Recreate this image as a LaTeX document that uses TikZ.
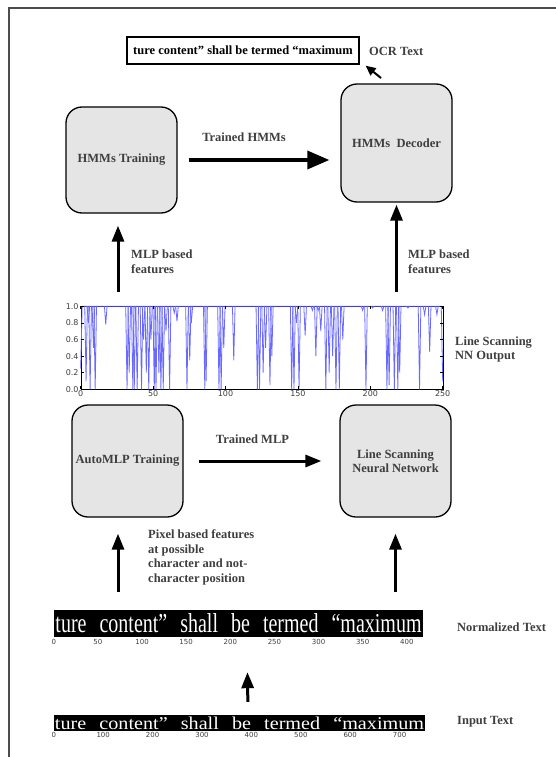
\documentclass[tikz,border=0pt]{standalone}
\usepackage{fontspec}
\setmainfont{Liberation Serif}
\newfontfamily\tickfont{DejaVu Sans}
\usepackage{graphicx}
\usetikzlibrary{arrows.meta,positioning}

\definecolor{boxgray}{RGB}{229,229,229}
\definecolor{labelgray}{RGB}{62,62,62}
\definecolor{nnblue}{RGB}{105,105,255}

\newcommand{\scantext}{ture\hspace{0.65em}content''\hspace{0.65em}shall\hspace{0.65em}be\hspace{0.65em}termed\hspace{0.65em}``maximum}

\begin{document}
\begin{tikzpicture}[x=1pt, y=-1pt,
  proc box/.style={draw, line width=1.3pt, rounded corners=16pt, fill=boxgray, minimum width=111pt, align=center, font=\fontsize{12.5}{14.5}\selectfont\bfseries, text=labelgray},
  big arrow/.style={line width=3pt, -{Triangle[length=16pt,width=12pt]}},
  lbl/.style={font=\fontsize{12.5}{14.5}\selectfont\bfseries, text=labelgray, align=left, inner sep=0pt},
  tick lbl/.style={font=\tickfont\fontsize{7}{8}\selectfont, text=labelgray, inner sep=1pt},
  scan strip/.style={fill=black, inner sep=0pt, text=white},
  nn line/.style={nnblue, line width=0.8pt}]
\useasboundingbox (0,0) rectangle (556,757);
\draw[gray!60!black, line width=1.2pt] (556,8) -- (9,8) -- (9,757);

% top row
\node[draw, line width=1.3pt, minimum width=232pt, minimum height=27pt, inner sep=0pt, font=\fontsize{12.5}{14}\selectfont\bfseries] (ocrbox) at (243,50.5) {ture content'' shall be termed ``maximum};
\node[lbl, anchor=west] (ocrlbl) at (369,51) {OCR Text};
\node[proc box, minimum height=106pt] (hmmtrain) at (121.5,160) {HMMs Training};
\node[proc box, minimum height=118pt] (hmmdec) at (396.5,143) {HMMs\ \ Decoder};
\coordinate (ocrtail) at (381,78);
\draw[line width=2pt, -{Triangle[length=10pt,width=9pt]}] (ocrtail) -- ([xshift=6pt,yshift=-1pt]ocrbox.south east);
\draw[line width=3.5pt, -{Triangle[length=22pt,width=18pt]}, shorten <=11pt, shorten >=11pt] (hmmtrain.east) -- (hmmtrain.east -| hmmdec.west);
\node[lbl] (hmmlbl) at (244,137) {Trained HMMs};

% nn output plot
\node[draw, line width=0.6pt, minimum width=362pt, minimum height=83pt, inner sep=0pt] (nnplot) at (262,347.5) {};
\begin{scope}[shift={(nnplot.south west)}, x=1.448pt, y=83pt]
  \draw[nn line] (0,0.25) -- (1,1) -- (249,1) -- (250,0.1);
  \foreach \p/\d in {3.7/0.1, 5.3/0.8, 6.5/0.0, 8.8/0.5, 10/0.0, 17.3/0.78, 32/0.0, 33.5/0.2, 36/0.0, 37/0.0, 39/0.0, 42/0.0, 43.4/0.6, 45.3/0.2, 47/0.0, 48.5/0.6, 50.8/0.0, 52/0.0, 54/0.2, 55.4/0.0, 57/0.0, 58.9/0.7, 61.4/0.0, 64.6/0.92, 66.5/0.82, 73.4/0.0, 75.3/0.35, 76.4/0.8, 85.7/0.0, 86.6/0.1, 95.5/0.0, 97/0.0, 98.8/0.5, 105.7/0.35, 122/0.0, 123.5/0.0, 126/0.2, 127.7/0.5, 130.7/0.05, 132/0.4, 145.7/0.0, 147.3/0.0, 149/0.8, 150.8/0.0, 155/0.65, 160/0.95, 162.4/0.4, 164/0.95, 165.8/0.7, 169.3/0.0, 171.6/0.2, 174/0.4, 176.3/0.0, 178.6/0.0, 181/0.6, 194.7/0.95, 197/0.0, 201.6/0.98, 208.5/0.95, 211.5/0.0, 213/0.05, 216.6/0.0, 219/0.0, 220.3/0.2, 226/0.98, 234/0.0, 237.5/0.9, 241/0.45, 246/0.9}
    \draw[nn line] (\p-0.9,1) -- (\p,\d) -- (\p+0.9,1);
  \foreach \t in {0,50,...,250} {
    \draw[line width=0.5pt] (\t,0) -- (\t,0.035) (\t,1) -- (\t,0.965);
    \node[tick lbl, anchor=north, font=\tickfont\fontsize{8}{9}\selectfont] at (\t,0) {\t};
  }
  \foreach \v in {0.0,0.2,0.4,0.6,0.8,1.0} {
    \draw[line width=0.5pt] (0,\v) -- (2,\v) (250,\v) -- (248,\v);
    \node[tick lbl, anchor=east, xshift=-1pt, font=\tickfont\fontsize{8}{9}\selectfont] at (0,\v) {\v};
  }
\end{scope}
\node[lbl, anchor=west] (nnlbl) at (455,349.5) {Line Scanning\\NN Output};
\draw[big arrow] ([xshift=-3.5pt,yshift=-78pt]hmmtrain.south) -- ([xshift=-3.5pt,yshift=-12pt]hmmtrain.south);
\node[lbl, anchor=west] (featl) at (131,261.5) {MLP based\\features};
\draw[big arrow] ([yshift=-89pt]hmmdec.south) -- ([yshift=-2pt]hmmdec.south);
\node[lbl, anchor=west] (featr) at (408,261.5) {MLP based\\features};

% mlp row
\node[proc box, minimum height=112pt] (automlp) at (127.5,461) {AutoMLP Training};
\node[proc box, minimum height=112pt] (lsnn) at (395.5,461) {Line Scanning\\Neural Network};
\draw[big arrow, shorten <=15pt, shorten >=18pt] (automlp.east) -- (lsnn.west);
\node[lbl] (mlplbl) at (252.5,439) {Trained MLP};
\draw[big arrow] ([xshift=-9.5pt,yshift=-74pt]automlp.south) -- ([xshift=-9.5pt,yshift=-16pt]automlp.south);
\node[lbl, anchor=west] (pixlbl) at (148,557.5) {Pixel based features\\at possible\\character and not-\\character position};
\draw[big arrow] ([yshift=-74pt]lsnn.south) -- ([yshift=-16pt]lsnn.south);

% text strips
\node[scan strip, minimum width=369pt, minimum height=27pt] (normstrip) at (238.5,623.5) {\resizebox{366pt}{19pt}{\scantext}};
\foreach \t in {0,50,...,400}
  \node[tick lbl, anchor=north, yshift=-1pt] at ([xshift=\t*0.8825pt]normstrip.south west) {\t};
\node[lbl, anchor=west] (normlbl) at (457,627) {Normalized Text};
\node[scan strip, minimum width=371pt, minimum height=16pt] (instrip) at (239.5,723) {\resizebox{369pt}{12.5pt}{\scantext}};
\foreach \t in {0,100,...,700}
  \node[tick lbl, anchor=north] at ([xshift=\t*0.494pt]instrip.south west) {\t};
\node[lbl, anchor=west] (inlbl) at (457,722) {Input Text};
\draw[big arrow, shorten <=13pt, shorten >=35pt] ([xshift=8.5pt]instrip.north) -- ([xshift=8.5pt]normstrip.south);
\end{tikzpicture}
\end{document}
